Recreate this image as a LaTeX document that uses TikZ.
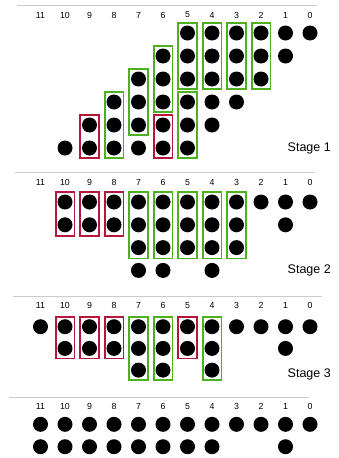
\documentclass[tikz,border=0pt]{standalone}
\usepackage{fontspec}
\setmainfont{Liberation Sans}
\definecolor{boxgreen}{HTML}{4DB01E}
\definecolor{boxred}{HTML}{B5173A}
\tikzset{
  rule/.style={gray!40, line width=0.8pt},
  collabel/.style={font=\fontsize{8.8}{10}\selectfont, inner sep=1pt},
  stagelabel/.style={font=\fontsize{12.5}{14}\selectfont, anchor=east, inner sep=0pt},
  grn/.style={draw=boxgreen, line width=1.6pt},
  rd/.style={draw=boxred, line width=1.6pt},
}
\newcommand{\colx}[1]{310-24.5*#1}

\begin{document}
\begin{tikzpicture}[x=1pt, y=-1pt]
  \useasboundingbox (0,0) rectangle (339,458);

  % stage 1
  \draw[rule] (17,5) -- (317,5);
  \foreach \c in {0,...,11}
    \node[collabel] (sa-\c) at ({\colx{\c}},15) {\c};
  \foreach \c/\a/\b in {0/1/1,1/1/2,2/1/3,3/1/4,4/1/5,5/1/6,6/2/6,7/3/6,8/4/6,9/5/6,10/6/6}
    \foreach \r in {\a,...,\b}
      \fill ({\colx{\c}},{33+23*(\r-1)}) circle (7.5);
  \foreach \c/\a/\b in {2/1/3,3/1/3,4/1/3,5/1/3,5/4/6,6/2/4,7/3/5,8/4/6}
    \draw[grn] ({\colx{\c}-9.3},{23+23*(\a-1)}) rectangle ({\colx{\c}+9.3},{43+23*(\b-1)});
  \foreach \c/\a/\b in {9/5/6,6/5/6}
    \draw[rd] ({\colx{\c}-9.3},{23+23*(\a-1)}) rectangle ({\colx{\c}+9.3},{43+23*(\b-1)});
  \node[stagelabel] (st1) at (331,148) {Stage 1};

  % stage 2
  \draw[rule] (15,172.7) -- (315,172.7);
  \foreach \c in {0,...,11}
    \node[collabel] (sb-\c) at ({\colx{\c}},182.7) {\c};
  \foreach \c/\a/\b in {0/1/1,1/1/2,2/1/1,3/1/3,4/1/4,5/1/3,6/1/4,7/1/4,8/1/2,9/1/2,10/1/2}
    \foreach \r in {\a,...,\b}
      \fill ({\colx{\c}},{202+22.8*(\r-1)}) circle (7.5);
  \foreach \c in {3,...,7}
    \draw[grn] ({\colx{\c}-9.3},192) rectangle ({\colx{\c}+9.3},{257.6+1});
  \foreach \c in {8,9,10}
    \draw[rd] ({\colx{\c}-9.3},192) rectangle ({\colx{\c}+9.3},{234.8+1});
  \node[stagelabel] (st2) at (331,270) {Stage 2};

  % stage 3
  \draw[rule] (12.7,296.7) -- (321.7,296.7);
  \foreach \c in {0,...,11}
    \node[collabel] (sc-\c) at ({\colx{\c}},305.7) {\c};
  \foreach \c/\a/\b in {0/1/1,1/1/2,2/1/1,3/1/1,4/1/3,5/1/2,6/1/3,7/1/3,8/1/2,9/1/2,10/1/2,11/1/1}
    \foreach \r in {\a,...,\b}
      \fill ({\colx{\c}},{326.7+21.7*(\r-1)}) circle (7.5);
  \foreach \c in {4,6,7}
    \draw[grn] ({\colx{\c}-9.3},316.7) rectangle ({\colx{\c}+9.3},380.1);
  \foreach \c in {5,8,9,10}
    \draw[rd] ({\colx{\c}-9.3},316.7) rectangle ({\colx{\c}+9.3},358.4);
  \node[stagelabel] (st3) at (331,374) {Stage 3};

  % result
  \draw[rule] (9.3,397.3) -- (309.3,397.3);
  \foreach \c in {0,...,11}
    \node[collabel] (sd-\c) at ({\colx{\c}},406.7) {\c};
  \foreach \c/\a/\b in {0/1/1,1/1/2,2/1/1,3/1/1,4/1/2,5/1/2,6/1/2,7/1/2,8/1/2,9/1/2,10/1/2,11/1/2}
    \foreach \r in {\a,...,\b}
      \fill ({\colx{\c}},{424.3+22.4*(\r-1)}) circle (7.5);
\end{tikzpicture}
\end{document}
